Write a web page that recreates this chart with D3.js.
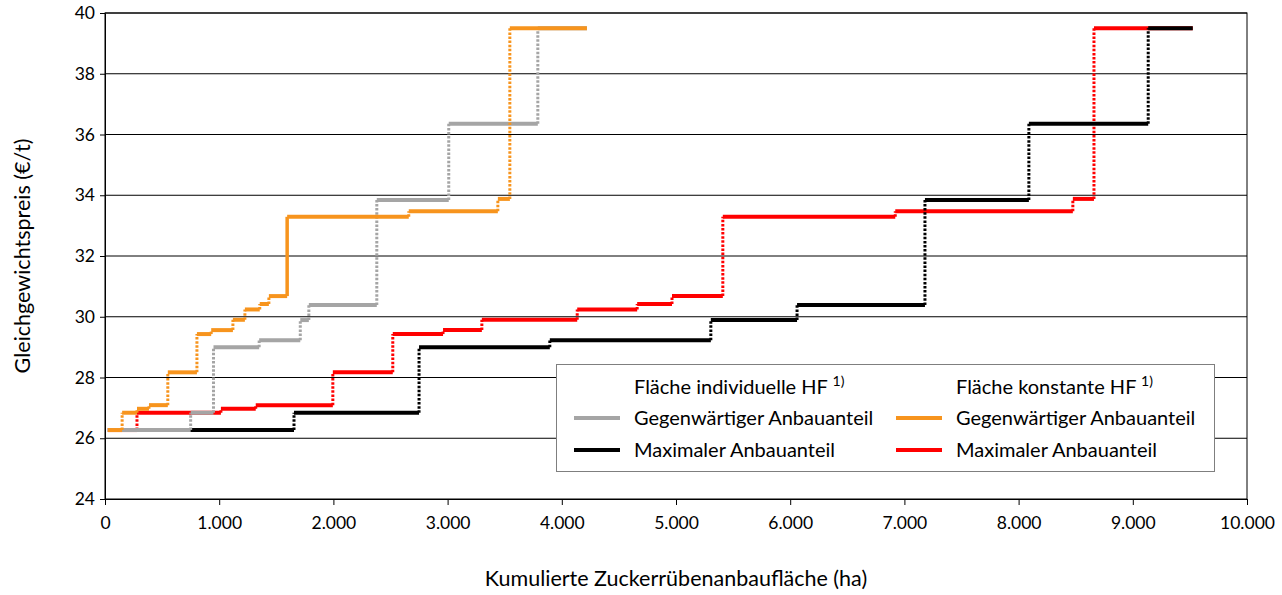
<!DOCTYPE html>
<html>
<head>
<meta charset="utf-8">
<script src="https://cdn.jsdelivr.net/npm/d3@7"></script>
<style>
  html, body { margin: 0; padding: 0; background: #fff; }
  svg { display: block; font-family: Lato, "Open Sans", sans-serif; }
</style>
</head>
<body>
<svg id="chart" width="1282" height="595"></svg>
<script>
// ---------- data ----------
const xTicks = [0, 1000, 2000, 3000, 4000, 5000, 6000, 7000, 8000, 9000, 10000];
const yTicks = [24, 26, 28, 30, 32, 34, 36, 38, 40];

// Fläche individuelle HF – price levels (shared)
const indivPrices = [26.27, 26.84, 29.0, 29.23, 29.89, 30.39, 33.84, 36.35, 39.5];
// cumulative area breakpoints (start, then end of each step)
const grayArea  = [25, 750, 950, 1350, 1710, 1785, 2380, 3010, 3790, 4220];
const blackArea = [25, 1655, 2750, 3895, 5305, 6060, 7180, 8090, 9135, 9525];

// Fläche konstante HF – price levels (shared)
const constPrices = [26.27, 26.84, 26.97, 27.09, 28.17, 29.43, 29.56, 29.9, 30.24, 30.42, 30.68, 33.29, 33.47, 33.88, 39.5];
const orangeArea = [25, 150, 280, 385, 550, 805, 930, 1120, 1225, 1355, 1435, 1595, 2660, 3440, 3545, 4220];
const redArea    = [25, 280, 1015, 1320, 1995, 2520, 2960, 3300, 4135, 4660, 4965, 5410, 6920, 8475, 8660, 9525];

const legendGroups = ["Fläche individuelle HF", "Fläche konstante HF"];
const legendLabels = ["Gegenwärtiger Anbauanteil", "Maximaler Anbauanteil"];

// ---------- layout ----------
const svg = d3.select("#chart");
const L = 105, R = 1247, T = 13, B = 499;
const x = d3.scaleLinear().domain([0, 10000]).range([L, R]);
const y = d3.scaleLinear().domain([24, 40]).range([B, T]);
const de = d3.formatLocale({decimal: ",", thousands: ".", grouping: [3], currency: ["", " €"]});
const fmt = de.format(",d");

// gridlines
svg.append("g").selectAll("line").data(yTicks.filter(d => d > 24)).join("line")
  .attr("x1", L).attr("x2", R)
  .attr("y1", d => y(d)).attr("y2", d => y(d))
  .attr("stroke", "#000").attr("stroke-width", 1);

// plot border
svg.append("rect").attr("x", L).attr("y", T).attr("width", R - L).attr("height", B - T)
  .attr("fill", "none").attr("stroke", "#000").attr("stroke-width", 1);

// axes
const xAxis = svg.append("g").attr("transform", `translate(0,${B})`)
  .call(d3.axisBottom(x).tickValues(xTicks).tickFormat(fmt).tickSize(6).tickSizeOuter(0));
const yAxis = svg.append("g").attr("transform", `translate(${L},0)`)
  .call(d3.axisLeft(y).tickValues(yTicks).tickSize(5).tickSizeOuter(0));
[xAxis, yAxis].forEach(a => {
  a.select(".domain").attr("stroke", "#000");
  a.selectAll(".tick line").attr("stroke", "#000");
  a.selectAll("text").attr("fill", "#000").attr("font-size", 17.5)
    .attr("font-family", "Lato, sans-serif");
});
xAxis.selectAll("text").attr("dy", null).attr("y", 30);
yAxis.selectAll("text").attr("x", -10);

// axis titles
svg.append("text").attr("x", (L + R) / 2).attr("y", 586).attr("text-anchor", "middle")
  .attr("font-size", 21.5).text("Kumulierte Zuckerrübenanbaufläche (ha)");
svg.append("text").attr("transform", `translate(30,${(T + B) / 2}) rotate(-90)`).attr("text-anchor", "middle")
  .attr("font-size", 21.5).text("Gleichgewichtspreis (€/t)");

// ---------- series ----------
const series = [
  {area: redArea,    prices: constPrices, color: "#ff0000", solidJump: -1},
  {area: blackArea,  prices: indivPrices, color: "#000000", solidJump: -1},
  {area: grayArea,   prices: indivPrices, color: "#a5a5a5", solidJump: -1},
  {area: orangeArea, prices: constPrices, color: "#f7941d", solidJump: 11}
];

series.forEach(s => {
  const g = svg.append("g");
  const steps = s.prices.map((p, i) => ({x0: s.area[i], x1: s.area[i + 1], p}));
  const jumps = s.prices.slice(1).map((p, i) => ({i: i + 1, xa: s.area[i + 1], p0: s.prices[i], p1: p}));
  g.selectAll("line.v").data(jumps).join("line").attr("class", "v")
    .attr("x1", d => x(d.xa)).attr("x2", d => x(d.xa))
    .attr("y1", d => y(d.p0)).attr("y2", d => y(d.p1))
    .attr("stroke", s.color)
    .attr("stroke-width", d => d.i === s.solidJump ? 3.5 : 3)
    .attr("stroke-dasharray", d => d.i === s.solidJump ? null : "2.5,1.6");
  g.selectAll("line.h").data(steps).join("line").attr("class", "h")
    .attr("x1", d => x(d.x0)).attr("x2", d => x(d.x1))
    .attr("y1", d => y(d.p)).attr("y2", d => y(d.p))
    .attr("stroke", s.color).attr("stroke-width", 4);
});

// ---------- legend ----------
const lg = svg.append("g");
lg.append("rect").attr("x", 556.5).attr("y", 364.5).attr("width", 658).attr("height", 107)
  .attr("fill", "#fff").attr("stroke", "#7f7f7f").attr("stroke-width", 1);
const cols = [574, 896];
const colColors = [["#a5a5a5", "#000000"], ["#f7941d", "#ff0000"]];
legendGroups.forEach((t, c) => {
  const tx = lg.append("text").attr("x", cols[c] + 60).attr("y", 394).attr("font-size", 20).text(t + " ");
  tx.append("tspan").attr("dy", -8).attr("font-size", 14).text("1)");
  legendLabels.forEach((lab, r) => {
    const yy = 418 + r * 32;
    lg.append("line").attr("x1", cols[c]).attr("x2", cols[c] + 46).attr("y1", yy).attr("y2", yy)
      .attr("stroke", colColors[c][r]).attr("stroke-width", 4);
    lg.append("text").attr("x", cols[c] + 60).attr("y", yy + 7).attr("font-size", 20).text(lab);
  });
});
</script>
</body>
</html>
